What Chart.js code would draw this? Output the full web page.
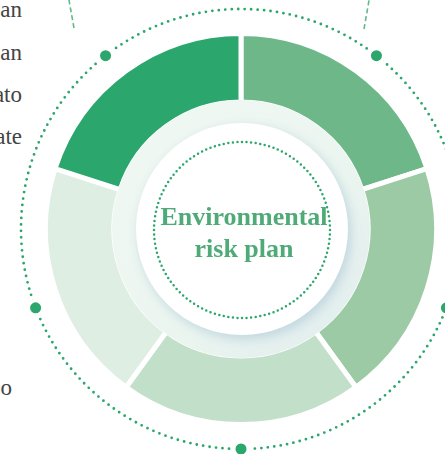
<!DOCTYPE html>
<html>
<head>
<meta charset="utf-8">
<script src="https://cdn.jsdelivr.net/npm/chart.js@4.4.1/dist/chart.umd.min.js"></script>
<style>
  html, body { margin: 0; padding: 0; background: #fff; }
  body { width: 445px; height: 454px; overflow: hidden; position: relative; }
  #lineChart { position: absolute; left: 0; top: -12px; }
  .side { position: absolute; left: -200px; width: 222px; text-align: right;
          font-family: "Liberation Serif", "DejaVu Serif", serif; font-size: 23px; color: #444; }
</style>
</head>
<body>
<div class="side" style="top:-3px">an</div>
<div class="side" style="top:40px">an</div>
<div class="side" style="top:82px">ato</div>
<div class="side" style="top:124px">ate</div>
<div class="side" style="top:375px;width:212px">o</div>
<canvas id="lineChart" width="482" height="482"></canvas>
<script>
const labels = ["Risk 1", "Risk 2", "Risk 3", "Risk 4", "Risk 5"];
const values = [20, 20, 20, 20, 20];
const colors = ["#6db789", "#9ccaa5", "#c2dfc9", "#dfeee2", "#2ba66c"];
const centerLines = ["Environmental", "risk plan"];
const markerAngles = [-38, 38, 111, 180, 249];

const decor = {
    id: "decor",
    afterDatasetsDraw(chart) {
        const ctx = chart.ctx;
        const meta = chart.getDatasetMeta(0);
        const cx = meta.data[0].x;
        const cy = meta.data[0].y;
        const green = "#2ba66c";

        // pale ring inside the doughnut
        ctx.save();
        let g = ctx.createLinearGradient(cx - 130, cy - 130, cx + 130, cy + 130);
        g.addColorStop(0, "#f1f8f3");
        g.addColorStop(0.6, "#ebf5ef");
        g.addColorStop(1, "#dfebee");
        ctx.fillStyle = g;
        ctx.beginPath();
        ctx.arc(cx, cy, 129, 0, Math.PI * 2);
        ctx.fill();

        // white disc with soft shadow
        ctx.shadowColor = "rgba(150,185,205,0.5)";
        ctx.shadowBlur = 12;
        ctx.shadowOffsetX = 3;
        ctx.shadowOffsetY = 4;
        ctx.fillStyle = "#fff";
        ctx.beginPath();
        ctx.arc(cx + 1, cy, 106, 0, Math.PI * 2);
        ctx.fill();
        ctx.restore();

        // inner dotted circle
        ctx.save();
        ctx.strokeStyle = green;
        ctx.lineWidth = 2.5;
        ctx.lineCap = "round";
        ctx.setLineDash([0, 4.6]);
        ctx.beginPath();
        ctx.arc(cx + 1, cy + 1, 88, 0, Math.PI * 2);
        ctx.stroke();

        // outer dotted circle
        ctx.lineWidth = 2.8;
        ctx.setLineDash([0, 6.5]);
        ctx.beginPath();
        ctx.arc(cx, cy, 220, 0, Math.PI * 2);
        ctx.stroke();
        ctx.setLineDash([]);

        // big markers
        markerAngles.forEach(a => {
            const r = a * Math.PI / 180;
            const x = cx + 220 * Math.sin(r);
            const y = cy - 220 * Math.cos(r);
            ctx.fillStyle = "#fff";
            ctx.beginPath();
            ctx.arc(x, y, 9, 0, Math.PI * 2);
            ctx.fill();
            ctx.fillStyle = green;
            ctx.beginPath();
            ctx.arc(x, y, 5.5, 0, Math.PI * 2);
            ctx.fill();
        });

        // dashed leader lines
        ctx.strokeStyle = "#5dbb8a";
        ctx.lineWidth = 1.6;
        ctx.lineCap = "butt";
        ctx.setLineDash([5, 3]);
        ctx.beginPath();
        ctx.moveTo(cx - 167, cy - 201);
        ctx.lineTo(cx - 174, cy - 240);
        ctx.moveTo(cx + 123, cy - 200);
        ctx.lineTo(cx + 130, cy - 240);
        ctx.stroke();
        ctx.setLineDash([]);

        // center text
        ctx.fillStyle = "#4eab77";
        ctx.font = "bold 26px 'Liberation Serif', 'DejaVu Serif', serif";
        ctx.textAlign = "center";
        ctx.textBaseline = "alphabetic";
        ctx.fillText(centerLines[0], cx + 3, cy - 4);
        ctx.fillText(centerLines[1], cx + 3, cy + 28);
        ctx.restore();
    }
};

new Chart(document.getElementById("lineChart").getContext("2d"), {
    type: "doughnut",
    data: {
        labels: labels,
        datasets: [{
            data: values,
            backgroundColor: colors,
            borderColor: "#fff",
            borderWidth: 5
        }]
    },
    options: {
        responsive: false,
        animation: false,
        cutout: "65%",
        layout: { padding: 43 },
        plugins: { legend: { display: false }, tooltip: { enabled: false } }
    },
    plugins: [decor]
});
</script>
</body>
</html>
